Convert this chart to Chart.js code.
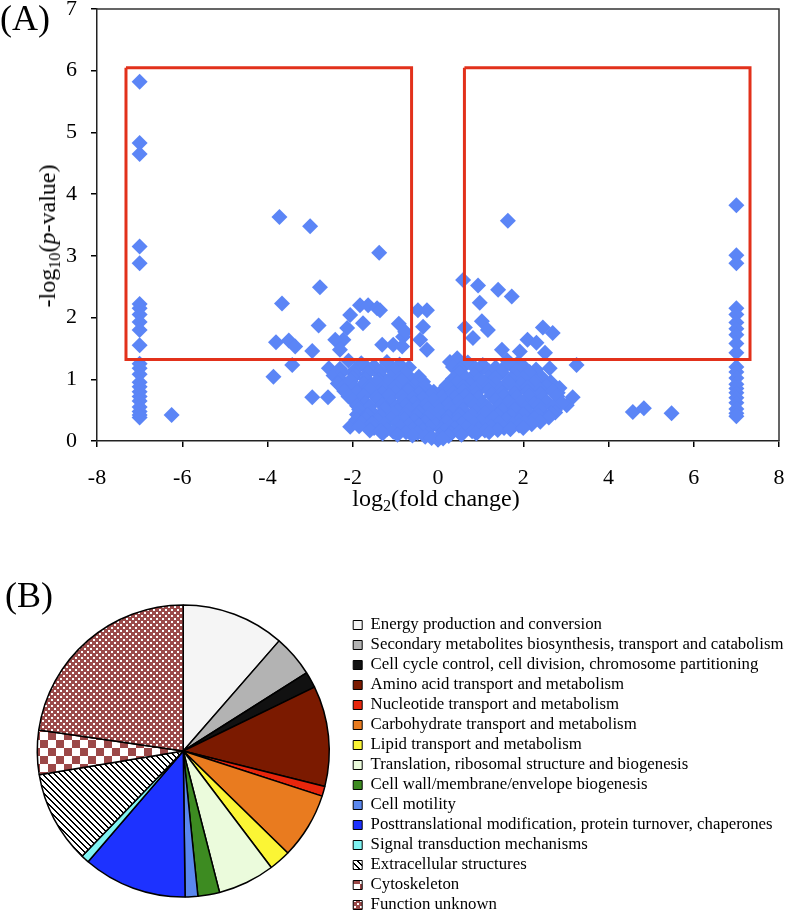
<!DOCTYPE html>
<html>
<head>
<meta charset="utf-8">
<script src="https://cdn.jsdelivr.net/npm/chart.js@4.4.0/dist/chart.umd.min.js"></script>
<style>
  html, body { margin: 0; padding: 0; background: #fff; overflow: hidden; }
  body { width: 787px; height: 912px; position: relative; font-family: "Liberation Serif", "Times New Roman", serif; color: #000; }
  canvas { position: absolute; left: 0; }
  #volcano { top: 0; }
  #cog { top: 540px; }
  .panel { position: absolute; font-size: 36px; line-height: 36px; }
  .axis-title { position: absolute; font-size: 24px; line-height: 24px; white-space: nowrap; }
  sub { font-size: 0.68em; line-height: 0; vertical-align: -0.32em; }
</style>
</head>
<body>
<canvas id="volcano" width="787" height="520"></canvas>
<canvas id="cog" width="800" height="440"></canvas>

<div class="panel" style="left:0px; top:0px;">(A)</div>
<div class="panel" style="left:5px; top:577px;">(B)</div>
<div class="axis-title" style="left:47px; top:236px; transform: translate(-50%, -50%) rotate(-90deg);">-log<sub>10</sub>(<i>p</i>-value)</div>
<div class="axis-title" style="left:436px; top:486px; transform: translateX(-50%);">log<sub>2</sub>(fold change)</div>

<script>
// ---- (A) volcano plot data ----
// proteins only seen in one condition, plotted at log2FC = -7 / +7
const leftColP = [5.82, 4.83, 4.65, 3.15, 2.88, 2.22, 2.15, 2.05, 1.93, 1.80, 1.55, 1.25, 1.18, 1.08, 0.95, 0.88, 0.80, 0.72, 0.65, 0.55, 0.48, 0.42, 0.38];
const rightColP = [3.82, 3.01, 2.88, 2.15, 2.05, 1.92, 1.82, 1.72, 1.58, 1.43, 1.20, 1.12, 1.02, 0.92, 0.85, 0.78, 0.70, 0.62, 0.52, 0.45, 0.40];

// scattered points outside the dense core
const spreadFC = [
  -6.25, -3.72, -3.00, -1.38, -2.77, -3.66, -2.80,
  -3.80, -3.50, -3.35, -2.95, -3.42, -3.86, -2.95, -2.58, -2.56,
  -2.06, -1.83, -1.64, -1.43, -1.36, -1.76, -2.13, -2.22, -2.41, -2.30, -1.31, -2.06,
  -0.92, -0.82, -0.84, -0.77, -1.05, -0.47, -0.26, -0.35, -0.42, -0.26,
  1.64, 0.59, 0.94, 1.41, 1.73, 0.98, 1.03, 0.63, 1.17, 0.82,
  2.46, 2.69, 2.10, 2.31, 1.50, 1.92, 2.51, 3.25, 0.28, 1.03, 2.62, 1.62, 1.87, 0.45,
  3.16, 2.81, 2.74, 3.02, 2.39, 1.92, 4.57, 4.83, 5.48
];
const spreadP = [
  0.42, 3.63, 3.48, 3.05, 2.49, 2.23, 1.87,
  1.60, 1.63, 1.53, 1.46, 1.23, 1.04, 0.71, 0.71, 1.18,
  2.04, 2.20, 2.20, 2.15, 2.12, 1.91, 1.83, 1.64, 1.64, 1.48, 1.56, 0.23,
  1.90, 1.69, 1.53, 1.77, 1.56, 2.12, 2.12, 1.85, 1.64, 1.48,
  3.57, 2.61, 2.52, 2.45, 2.34, 2.24, 1.94, 1.84, 1.80, 1.67,
  1.84, 1.75, 1.64, 1.59, 1.48, 1.45, 1.43, 1.23, 1.28, 1.18, 1.18, 1.31, 1.26, 1.34,
  0.71, 0.78, 0.50, 0.58, 0.34, 0.31, 0.47, 0.53, 0.45
];

// dense core around zero
const coreFC = [
  -2.10, -1.80, -1.50, -1.20, -0.90, -0.68, 0.35, 0.70, 1.05, 1.35, 1.70, 2.00, 2.30,
  -2.30, -1.95, -1.65, -1.35, -1.05, -0.80, 0.52, 0.88, 1.20, 1.52, 1.85, 2.15,
  -2.45, -2.25, -1.95, -1.65, -1.35, -1.05, -0.75, -0.45, 0.50, 0.85, 1.20, 1.50, 1.85, 2.15, 2.45,
  -2.30, -2.00, -1.70, -1.40, -1.10, -0.90, -0.60, -0.35, 0.35, 0.65, 0.95, 1.35, 1.70, 2.00, 2.30, 2.65,
  -2.35, -2.05, -1.75, -1.45, -1.15, -0.85, -0.55, -0.30, 0.20, 0.45, 0.75, 1.05, 1.35, 1.65, 1.95, 2.25, 2.55, 2.85,
  -2.25, -1.95, -1.60, -1.30, -1.00, -0.70, -0.42, -0.10, 0.05, 0.30, 0.60, 0.90, 1.20, 1.50, 1.80, 2.10, 2.40, 2.70,
  -2.20, -1.90, -1.60, -1.30, -1.00, -0.70, -0.45, -0.15, 0.10, 0.35, 0.60, 0.90, 1.20, 1.50, 1.80, 2.10, 2.40, 2.70,
  -2.10, -1.75, -1.45, -1.15, -0.85, -0.60, -0.35, -0.10, 0.15, 0.40, 0.65, 0.95, 1.25, 1.55, 1.85, 2.15, 2.45, 2.80,
  -2.00, -1.70, -1.40, -1.10, -0.80, -0.55, -0.30, 0.00, 0.25, 0.50, 0.75, 1.05, 1.35, 1.65, 1.95, 2.25, 2.55, 2.90,
  -1.90, -1.60, -1.30, -1.00, -0.75, -0.50, -0.25, 0.05, 0.30, 0.55, 0.85, 1.15, 1.45, 1.75, 2.05, 2.35, 2.70,
  -1.85, -1.55, -1.25, -0.95, -0.70, -0.45, -0.20, 0.10, 0.35, 0.60, 0.90, 1.20, 1.50, 1.80, 2.10, 2.40, 2.75,
  -1.90, -1.65, -1.35, -1.05, -0.75, -0.50, -0.25, 0.00, 0.25, 0.50, 0.80, 1.10, 1.40, 1.70, 2.00, 2.35, 2.65,
  -1.92, -1.70, -1.40, -1.10, -0.80, -0.55, -0.30, -0.05, 0.20, 0.45, 0.70, 1.00, 1.30, 1.60, 1.90, 2.25, 2.60,
  -1.80, -1.55, -1.25, -0.95, -0.70, -0.45, -0.18, 0.08, 0.30, 0.55, 0.85, 1.15, 1.45, 1.75, 2.05, 2.40,
  -1.85, -1.50, -1.20, -0.90, -0.60, -0.35, 0.15, 0.40, 0.65, 0.95, 1.25, 1.55, 1.90, 2.20,
  -1.60, -1.35, -1.05, -0.75, -0.48, -0.22, 0.05, 0.30, 0.50, 0.80, 1.10, 1.40, 1.70, 2.00,
  -1.30, -0.95, -0.60, -0.30, 0.25, 0.55, 0.90, 1.20, 0.00, -0.15, 0.12
];
const coreP = [
  1.30, 1.26, 1.21, 1.28, 1.24, 1.19, 1.20, 1.27, 1.23, 1.19, 1.25, 1.21, 1.16,
  1.17, 1.15, 1.18, 1.14, 1.17, 1.15, 1.16, 1.18, 1.13, 1.17, 1.14, 1.12,
  1.06, 1.12, 1.08, 1.10, 1.06, 1.13, 1.09, 1.04, 1.10, 1.07, 1.03, 1.11, 1.05, 1.08, 1.02,
  1.00, 1.02, 1.01, 0.99, 1.03, 1.00, 0.98, 0.96, 1.01, 1.03, 0.99, 1.02, 1.00, 1.01, 0.97, 0.95,
  0.93, 0.97, 0.92, 0.96, 0.94, 0.98, 0.91, 0.88, 0.90, 0.95, 0.92, 0.97, 0.93, 0.96, 0.91, 0.94, 0.89, 0.86,
  0.87, 0.86, 0.88, 0.85, 0.87, 0.86, 0.84, 0.80, 0.78, 0.84, 0.87, 0.85, 0.88, 0.86, 0.84, 0.87, 0.83, 0.80,
  0.81, 0.79, 0.83, 0.78, 0.80, 0.82, 0.77, 0.74, 0.72, 0.79, 0.81, 0.78, 0.82, 0.79, 0.77, 0.80, 0.76, 0.81,
  0.72, 0.73, 0.71, 0.74, 0.72, 0.70, 0.69, 0.66, 0.67, 0.71, 0.73, 0.70, 0.74, 0.72, 0.70, 0.73, 0.69, 0.72,
  0.66, 0.62, 0.67, 0.63, 0.65, 0.61, 0.58, 0.55, 0.60, 0.64, 0.66, 0.62, 0.67, 0.63, 0.65, 0.61, 0.64, 0.62,
  0.57, 0.56, 0.58, 0.55, 0.57, 0.54, 0.52, 0.49, 0.53, 0.56, 0.58, 0.55, 0.57, 0.56, 0.54, 0.57, 0.55,
  0.51, 0.47, 0.52, 0.49, 0.50, 0.46, 0.43, 0.41, 0.47, 0.50, 0.48, 0.52, 0.49, 0.51, 0.47, 0.50, 0.46,
  0.43, 0.42, 0.41, 0.44, 0.42, 0.40, 0.37, 0.34, 0.39, 0.42, 0.41, 0.44, 0.42, 0.40, 0.43, 0.41, 0.44,
  0.34, 0.36, 0.33, 0.37, 0.35, 0.32, 0.30, 0.27, 0.31, 0.34, 0.36, 0.33, 0.37, 0.35, 0.33, 0.36, 0.38,
  0.29, 0.28, 0.27, 0.29, 0.26, 0.25, 0.22, 0.20, 0.24, 0.27, 0.28, 0.26, 0.29, 0.28, 0.30, 0.31,
  0.24, 0.21, 0.19, 0.22, 0.20, 0.17, 0.16, 0.20, 0.22, 0.19, 0.23, 0.21, 0.25, 0.27,
  0.17, 0.16, 0.15, 0.14, 0.13, 0.11, 0.09, 0.12, 0.14, 0.16, 0.17, 0.18, 0.19, 0.21,
  0.12, 0.10, 0.09, 0.07, 0.08, 0.10, 0.12, 0.14, 0.02, 0.05, 0.04
];

// selection boxes (significant down / up)
const boxDownFC = [-7.32, -0.62, -0.62, -7.32, -7.32];
const boxUpFC = [0.62, 7.32, 7.32, 0.62, 0.62];
const boxP = [6.05, 6.05, 1.32, 1.32, 6.05];

// ---- (B) COG category shares (%) ----
const cogLabels = [
  'Energy production and conversion',
  'Secondary metabolites biosynthesis, transport and catabolism',
  'Cell cycle control, cell division, chromosome partitioning',
  'Amino acid transport and metabolism',
  'Nucleotide transport and metabolism',
  'Carbohydrate transport and metabolism',
  'Lipid transport and metabolism',
  'Translation, ribosomal structure and biogenesis',
  'Cell wall/membrane/envelope biogenesis',
  'Cell motility',
  'Posttranslational modification, protein turnover, chaperones',
  'Signal transduction mechanisms',
  'Extracellular structures',
  'Cytoskeleton',
  'Function unknown'
];
const cogShare = [11.4, 4.6, 1.8, 11.1, 1.1, 7.3, 2.4, 6.3, 2.4, 1.4, 11.5, 0.9, 10.2, 4.9, 22.7];

const pts = [];
leftColP.forEach(p => pts.push({ x: -7, y: p }));
rightColP.forEach(p => pts.push({ x: 7, y: p }));
spreadFC.forEach((fc, i) => pts.push({ x: fc, y: spreadP[i] }));
coreFC.forEach((fc, i) => pts.push({ x: fc, y: coreP[i] }));

const serif = 'Liberation Serif';

const frame = {
  id: 'frame',
  beforeDatasetsDraw(chart) {
    const { ctx, chartArea: a } = chart;
    ctx.save();
    ctx.strokeStyle = '#333';
    ctx.lineWidth = 1.5;
    ctx.beginPath();
    ctx.moveTo(a.left, a.top);
    ctx.lineTo(a.right, a.top);
    ctx.lineTo(a.right, a.bottom);
    ctx.stroke();
    ctx.restore();
  }
};

const boxStyle = { showLine: true, borderColor: '#e2311b', borderWidth: 3, pointRadius: 0, borderJoinStyle: 'miter', tension: 0, fill: false, order: 0, clip: false };

new Chart(document.getElementById('volcano'), {
  type: 'scatter',
  data: {
    datasets: [
      { ...boxStyle, data: boxDownFC.map((x, i) => ({ x, y: boxP[i] })) },
      { ...boxStyle, data: boxUpFC.map((x, i) => ({ x, y: boxP[i] })) },
      { data: pts, pointStyle: 'rectRot', pointRadius: 8, backgroundColor: '#5b85f6', borderWidth: 0, order: 1, clip: false }
    ]
  },
  options: {
    responsive: false,
    animation: false,
    devicePixelRatio: 1,
    events: [],
    layout: { padding: { top: 9, right: 7, left: 0, bottom: 0 } },
    plugins: { legend: { display: false }, tooltip: { enabled: false } },
    scales: {
      x: {
        type: 'linear', min: -8, max: 8,
        ticks: { stepSize: 2, color: '#000', font: { family: serif, size: 22 }, padding: 18 },
        grid: { drawOnChartArea: false, drawTicks: true, tickLength: 6, color: '#000', lineWidth: 1.5 },
        border: { display: true, color: '#222', width: 1.5 },
        afterFit(s) { s.height = 79; s.paddingLeft = 0; s.paddingRight = 0; }
      },
      y: {
        type: 'linear', min: 0, max: 7,
        ticks: { stepSize: 1, color: '#000', font: { family: serif, size: 22 }, padding: 14 },
        grid: { drawOnChartArea: false, drawTicks: true, tickLength: 6, color: '#000', lineWidth: 1.5 },
        border: { display: true, color: '#222', width: 1.5 },
        afterFit(s) { s.width = 97; s.paddingTop = 0; s.paddingBottom = 0; }
      }
    }
  },
  plugins: [frame]
});

// patterned fills for the last three categories
const cogCanvas = document.getElementById('cog');
const cogCtx = cogCanvas.getContext('2d');

function tile(size, draw) {
  const t = document.createElement('canvas');
  t.width = size; t.height = size;
  const g = t.getContext('2d');
  draw(g);
  return cogCtx.createPattern(t, 'repeat');
}

const hatch = tile(6, g => {
  g.fillStyle = '#fff'; g.fillRect(0, 0, 6, 6);
  g.fillStyle = '#000';
  for (let i = 0; i < 6; i++) { g.fillRect(i, i, 1, 1); g.fillRect((i + 1) % 6, i, 1, 1); }
});
const bigChecker = tile(16, g => {
  g.fillStyle = '#fff'; g.fillRect(0, 0, 16, 16);
  g.fillStyle = '#9c4848'; g.fillRect(0, 0, 8, 8); g.fillRect(8, 8, 8, 8);
});
const fineChecker = tile(6, g => {
  g.fillStyle = '#9b4a4a'; g.fillRect(0, 0, 6, 6);
  g.fillStyle = '#fff'; g.fillRect(0, 0, 2, 2); g.fillRect(3, 3, 2, 2);
});

const cogFill = ['#f5f5f5', '#b3b3b3', '#111111', '#7b1a00', '#e8260c', '#e97b1f', '#fbf535',
  '#ebfbdc', '#3d8b21', '#5a87ef', '#1d32ff', '#7ff3f2', hatch, bigChecker, fineChecker];

const baseLabels = Chart.overrides.pie.plugins.legend.labels.generateLabels;

const pieChart = new Chart(cogCanvas, {
  type: 'pie',
  data: {
    labels: cogLabels,
    datasets: [{ data: cogShare, backgroundColor: cogFill, borderColor: '#000', borderWidth: 1.5 }]
  },
  options: {
    responsive: false,
    animation: false,
    devicePixelRatio: 1,
    events: [],
    radius: 146,
    layout: { padding: { left: 16.5, right: 0, top: 20, bottom: 38 } },
    plugins: {
      tooltip: { enabled: false },
      legend: {
        position: 'right',
        align: 'start',
        maxWidth: 700,
        title: { display: true, text: '', font: { size: 10 }, padding: { top: 41.4, bottom: 0 } },
        labels: {
          boxWidth: 9, boxHeight: 9, padding: 3.2, color: '#000',
          font: { family: serif, size: 16.8 },
          generateLabels(chart) {
            return baseLabels(chart).map(l => ({ ...l, lineWidth: 1 }));
          }
        }
      }
    }
  }
});

// put the legend's left edge where the reference has it, so the pie centre lands at x = 183
pieChart.options.layout.padding.right = cogCanvas.width - 350 - pieChart.legend.width;
pieChart.update();
</script>
</body>
</html>
